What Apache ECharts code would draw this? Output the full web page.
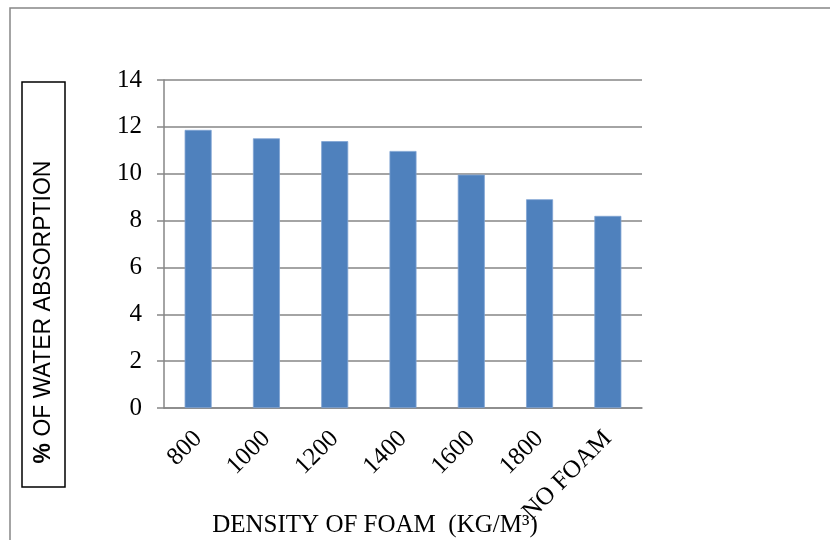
<!DOCTYPE html>
<html>
<head>
<meta charset="utf-8">
<script src="https://cdn.jsdelivr.net/npm/echarts@6/dist/echarts.min.js"></script>
<style>html,body{margin:0;padding:0;background:#fff}#c{width:830px;height:540px}</style>
</head>
<body>
<div id="c"></div>
<script>
var categories = ['800', '1000', '1200', '1400', '1600', '1800', 'NO FOAM'];
var absorption = [11.87, 11.51, 11.39, 10.97, 9.96, 8.91, 8.2];
var yTicks = [0, 2, 4, 6, 8, 10, 12, 14];
var yAxisTitle = '% OF WATER ABSORPTION';
var xAxisTitle = 'DENSITY OF FOAM  (KG/M³)';

var chart = echarts.init(document.getElementById('c'), null, {renderer: 'canvas'});
var serif = '"Liberation Serif", "DejaVu Serif", serif';
var sans = '"Liberation Sans", Arial, sans-serif';
chart.setOption({
  animation: false,
  backgroundColor: '#fff',
  grid: {left: 164, right: 188, top: 80, bottom: 132, containLabel: false},
  xAxis: {
    type: 'category',
    data: categories,
    axisLine: {lineStyle: {color: '#868686', width: 1.5}},
    axisTick: {alignWithLabel: false, length: 8, lineStyle: {color: '#868686', width: 1.5}},
    axisLabel: {rotate: 45, margin: 27, color: '#000', fontFamily: serif, fontSize: 25, interval: 0}
  },
  yAxis: {
    type: 'value',
    min: yTicks[0],
    max: yTicks[yTicks.length - 1],
    interval: 2,
    axisLine: {show: true, lineStyle: {color: '#868686', width: 1.5}},
    axisTick: {show: true, length: 7, lineStyle: {color: '#868686', width: 1.5}},
    axisLabel: {margin: 22, color: '#000', fontFamily: serif, fontSize: 25},
    splitLine: {lineStyle: {color: '#868686', width: 1.5}}
  },
  series: [{
    type: 'bar',
    data: absorption,
    barWidth: 27,
    itemStyle: {color: '#4F81BD', borderColor: '#7FA3D3', borderWidth: 0.8}
  }],
  graphic: [
    {type: 'polyline', shape: {points: [[10, 540], [10, 8], [830, 8]]}, style: {stroke: '#868686', lineWidth: 1.5, fill: null}},
    {type: 'rect', shape: {x: 22, y: 82, width: 43, height: 405}, style: {stroke: '#000', lineWidth: 1.5, fill: '#fff'}},
    {type: 'text', x: 44, y: 312, rotation: Math.PI / 2,
      style: {text: '{b|%} ' + yAxisTitle.slice(2), font: '23px ' + sans, fill: '#000', align: 'center', verticalAlign: 'middle',
        rich: {b: {fontWeight: 'bold', fontSize: 23, fontFamily: sans}}}},
    {type: 'text', x: 375, y: 525,
      style: {text: xAxisTitle, font: '25px ' + serif, fill: '#000', align: 'center', verticalAlign: 'middle'}}
  ]
});
</script>
</body>
</html>
